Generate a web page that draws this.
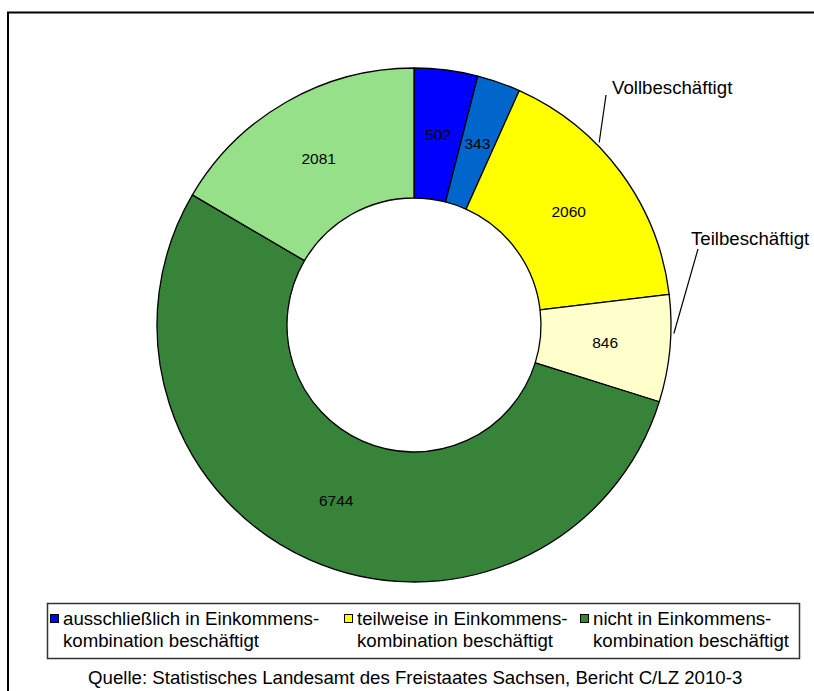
<!DOCTYPE html>
<html>
<head>
<meta charset="utf-8">
<script src="https://cdn.jsdelivr.net/npm/d3@7"></script>
<style>
  body { margin: 0; background: #fff; }
  svg { display: block; font-family: 'Liberation Sans', Arial, sans-serif; }
</style>
</head>
<body>
<div id="chart"></div>
<script>
// slice values, clockwise from 12 o'clock
let categories = [
  'ausschließlich - Voll',
  'ausschließlich - Teil',
  'teilweise - Voll',
  'teilweise - Teil',
  'nicht - Voll',
  'nicht - Teil'
]
let values = [502, 343, 2060, 846, 6744, 2081]
let colors = ['#0000ff', '#0066cc', '#ffff00', '#ffffcc', '#37833a', '#96e08a']

let legendLines = [
  ['ausschließlich in Einkommens-', 'kombination beschäftigt'],
  ['teilweise in Einkommens-', 'kombination beschäftigt'],
  ['nicht in Einkommens-', 'kombination beschäftigt']
]
let legendColors = ['#0000ff', '#ffff00', '#37833a']

// callouts point at the yellow slices
let callouts = [
  { text: 'Vollbeschäftigt', slice: 2, frac: 0.36, x: 612, y: 94, lx: 606, ly: 95 },
  { text: 'Teilbeschäftigt', slice: 3, frac: 0.36, x: 691, y: 245, lx: 698, ly: 249 }
]

let source = 'Quelle: Statistisches Landesamt des Freistaates Sachsen, Bericht C/LZ 2010-3'

let width = 814
let height = 691
let cx = 414
let cy = 325
let outerR = 257
let innerR = 127

var svg = d3
  .select('#chart')
  .append('svg')
  .attr('width', width)
  .attr('height', height)

// outer frame (runs off the right and bottom edge)
svg
  .append('rect')
  .attr('x', 8)
  .attr('y', 12.5)
  .attr('width', 900)
  .attr('height', 900)
  .attr('fill', 'none')
  .attr('stroke', '#000')
  .attr('stroke-width', 2)

var pie = d3
  .pie()
  .sort(null)
  .value(d => d)

var arc = d3
  .arc()
  .innerRadius(innerR)
  .outerRadius(outerR)

var labelArc = d3
  .arc()
  .innerRadius((innerR + outerR) / 2)
  .outerRadius((innerR + outerR) / 2)

let slices = pie(values)

var g = svg.append('g').attr('transform', `translate(${cx},${cy})`)

g.selectAll('.slice')
  .data(slices)
  .enter()
  .append('path')
  .attr('class', 'slice')
  .attr('d', arc)
  .attr('fill', (d, i) => colors[i])
  .attr('stroke', '#000')
  .attr('stroke-width', 1.3)
  .attr('stroke-linejoin', 'round')

g.selectAll('.value-label')
  .data(slices)
  .enter()
  .append('text')
  .attr('class', 'value-label')
  .text(d => d.data)
  .attr('transform', d => `translate(${labelArc.centroid(d)})`)
  .attr('text-anchor', 'middle')
  .attr('dy', '0.36em')
  .attr('font-size', 15.5)
  .attr('fill', '#000')

// callout lines + labels
callouts.forEach(c => {
  let s = slices[c.slice]
  let a = s.startAngle + (s.endAngle - s.startAngle) * c.frac
  let r = outerR + 3
  let px = cx + r * Math.sin(a)
  let py = cy - r * Math.cos(a)
  svg
    .append('line')
    .attr('x1', px)
    .attr('y1', py)
    .attr('x2', c.lx)
    .attr('y2', c.ly)
    .attr('stroke', '#000')
    .attr('stroke-width', 1.2)
  svg
    .append('text')
    .text(c.text)
    .attr('x', c.x)
    .attr('y', c.y)
    .attr('font-size', 18.67)
    .attr('fill', '#000')
})

// legend
let legendX = [50, 344, 580]
var legend = svg.append('g')

legend
  .append('rect')
  .attr('x', 47.5)
  .attr('y', 603.5)
  .attr('width', 752)
  .attr('height', 55)
  .attr('fill', '#fff')
  .attr('stroke', '#333')
  .attr('stroke-width', 1.5)

var items = legend
  .selectAll('.legend-item')
  .data(legendLines)
  .enter()
  .append('g')
  .attr('class', 'legend-item')
  .attr('transform', (d, i) => `translate(${legendX[i]},0)`)

items
  .append('rect')
  .attr('x', 0.5)
  .attr('y', 614.5)
  .attr('width', 8)
  .attr('height', 8)
  .attr('fill', (d, i) => legendColors[i])
  .attr('stroke', '#000')
  .attr('stroke-width', 1)

items
  .selectAll('.legend-line')
  .data(d => d)
  .enter()
  .append('text')
  .attr('class', 'legend-line')
  .text(d => d)
  .attr('x', 13)
  .attr('y', (d, i) => 625 + i * 22)
  .attr('font-size', 18.67)
  .attr('fill', '#000')

svg
  .append('text')
  .text(source)
  .attr('x', 88)
  .attr('y', 684)
  .attr('font-size', 18.67)
  .attr('fill', '#000')
</script>
</body>
</html>
